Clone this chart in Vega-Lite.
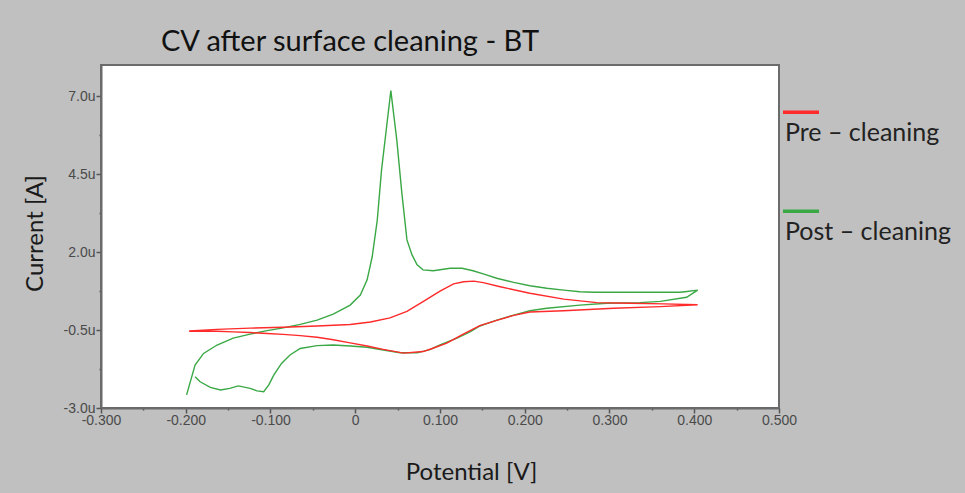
{
  "$schema": "https://vega.github.io/schema/vega-lite/v6.json",
  "width": 678,
  "height": 343,
  "autosize": {"type": "none"},
  "padding": {"left": 101, "top": 65, "right": 186, "bottom": 85},
  "background": "#c0c0c0",
  "config": {
    "view": {"stroke": "#6b6b6b", "strokeWidth": 2, "fill": "white"},
    "axis": {"grid": false, "domainColor": "#6b6b6b", "domainWidth": 2, "tickColor": "#555555", "tickWidth": 1.5,
      "labelFont": "Liberation Sans", "labelFontSize": 14, "labelColor": "#4a4a4a",
      "titleFont": "Lato", "titleFontWeight": "normal", "titleColor": "#1a1a1a"}
  },
  "title": {"text": "CV after surface cleaning - BT", "anchor": "start", "frame": "group", "dx": 60, "offset": -15,
    "font": "Lato", "fontSize": 29, "fontWeight": "normal", "color": "#111111", "baseline": "alphabetic"},
  "data": {"values": [
    {"series": "Post – cleaning", "k": 1, "v": -0.199, "i": -2.58},
    {"series": "Post – cleaning", "k": 2, "v": -0.189, "i": -1.62},
    {"series": "Post – cleaning", "k": 3, "v": -0.179, "i": -1.25},
    {"series": "Post – cleaning", "k": 4, "v": -0.163, "i": -0.98},
    {"series": "Post – cleaning", "k": 5, "v": -0.144, "i": -0.76},
    {"series": "Post – cleaning", "k": 6, "v": -0.124, "i": -0.63},
    {"series": "Post – cleaning", "k": 7, "v": -0.104, "i": -0.52},
    {"series": "Post – cleaning", "k": 8, "v": -0.085, "i": -0.43},
    {"series": "Post – cleaning", "k": 9, "v": -0.065, "i": -0.32},
    {"series": "Post – cleaning", "k": 10, "v": -0.045, "i": -0.18},
    {"series": "Post – cleaning", "k": 11, "v": -0.026, "i": 0.01},
    {"series": "Post – cleaning", "k": 12, "v": -0.006, "i": 0.30},
    {"series": "Post – cleaning", "k": 13, "v": 0.006, "i": 0.62},
    {"series": "Post – cleaning", "k": 14, "v": 0.014, "i": 1.11},
    {"series": "Post – cleaning", "k": 15, "v": 0.020, "i": 1.85},
    {"series": "Post – cleaning", "k": 16, "v": 0.026, "i": 3.03},
    {"series": "Post – cleaning", "k": 17, "v": 0.031, "i": 4.63},
    {"series": "Post – cleaning", "k": 18, "v": 0.037, "i": 6.02},
    {"series": "Post – cleaning", "k": 19, "v": 0.042, "i": 7.18},
    {"series": "Post – cleaning", "k": 20, "v": 0.049, "i": 5.60},
    {"series": "Post – cleaning", "k": 21, "v": 0.055, "i": 3.89},
    {"series": "Post – cleaning", "k": 22, "v": 0.061, "i": 2.39},
    {"series": "Post – cleaning", "k": 23, "v": 0.067, "i": 1.91},
    {"series": "Post – cleaning", "k": 24, "v": 0.073, "i": 1.59},
    {"series": "Post – cleaning", "k": 25, "v": 0.080, "i": 1.43},
    {"series": "Post – cleaning", "k": 26, "v": 0.092, "i": 1.40},
    {"series": "Post – cleaning", "k": 27, "v": 0.112, "i": 1.48},
    {"series": "Post – cleaning", "k": 28, "v": 0.126, "i": 1.48},
    {"series": "Post – cleaning", "k": 29, "v": 0.139, "i": 1.40},
    {"series": "Post – cleaning", "k": 30, "v": 0.151, "i": 1.30},
    {"series": "Post – cleaning", "k": 31, "v": 0.167, "i": 1.16},
    {"series": "Post – cleaning", "k": 32, "v": 0.187, "i": 1.03},
    {"series": "Post – cleaning", "k": 33, "v": 0.206, "i": 0.92},
    {"series": "Post – cleaning", "k": 34, "v": 0.226, "i": 0.84},
    {"series": "Post – cleaning", "k": 35, "v": 0.246, "i": 0.78},
    {"series": "Post – cleaning", "k": 36, "v": 0.265, "i": 0.73},
    {"series": "Post – cleaning", "k": 37, "v": 0.281, "i": 0.71},
    {"series": "Post – cleaning", "k": 38, "v": 0.305, "i": 0.71},
    {"series": "Post – cleaning", "k": 39, "v": 0.344, "i": 0.71},
    {"series": "Post – cleaning", "k": 40, "v": 0.383, "i": 0.71},
    {"series": "Post – cleaning", "k": 41, "v": 0.389, "i": 0.73},
    {"series": "Post – cleaning", "k": 42, "v": 0.404, "i": 0.78},
    {"series": "Post – cleaning", "k": 43, "v": 0.391, "i": 0.55},
    {"series": "Post – cleaning", "k": 44, "v": 0.360, "i": 0.42},
    {"series": "Post – cleaning", "k": 45, "v": 0.336, "i": 0.38},
    {"series": "Post – cleaning", "k": 46, "v": 0.297, "i": 0.36},
    {"series": "Post – cleaning", "k": 47, "v": 0.265, "i": 0.30},
    {"series": "Post – cleaning", "k": 48, "v": 0.226, "i": 0.20},
    {"series": "Post – cleaning", "k": 49, "v": 0.206, "i": 0.12},
    {"series": "Post – cleaning", "k": 50, "v": 0.187, "i": -0.02},
    {"series": "Post – cleaning", "k": 51, "v": 0.167, "i": -0.18},
    {"series": "Post – cleaning", "k": 52, "v": 0.147, "i": -0.37},
    {"series": "Post – cleaning", "k": 53, "v": 0.136, "i": -0.55},
    {"series": "Post – cleaning", "k": 54, "v": 0.120, "i": -0.76},
    {"series": "Post – cleaning", "k": 55, "v": 0.100, "i": -0.98},
    {"series": "Post – cleaning", "k": 56, "v": 0.088, "i": -1.13},
    {"series": "Post – cleaning", "k": 57, "v": 0.073, "i": -1.23},
    {"series": "Post – cleaning", "k": 58, "v": 0.053, "i": -1.23},
    {"series": "Post – cleaning", "k": 59, "v": 0.033, "i": -1.14},
    {"series": "Post – cleaning", "k": 60, "v": 0.014, "i": -1.05},
    {"series": "Post – cleaning", "k": 61, "v": -0.006, "i": -1.01},
    {"series": "Post – cleaning", "k": 62, "v": -0.026, "i": -0.98},
    {"series": "Post – cleaning", "k": 63, "v": -0.045, "i": -1.00},
    {"series": "Post – cleaning", "k": 64, "v": -0.065, "i": -1.09},
    {"series": "Post – cleaning", "k": 65, "v": -0.077, "i": -1.30},
    {"series": "Post – cleaning", "k": 66, "v": -0.087, "i": -1.57},
    {"series": "Post – cleaning", "k": 67, "v": -0.096, "i": -1.94},
    {"series": "Post – cleaning", "k": 68, "v": -0.102, "i": -2.26},
    {"series": "Post – cleaning", "k": 69, "v": -0.108, "i": -2.48},
    {"series": "Post – cleaning", "k": 70, "v": -0.116, "i": -2.45},
    {"series": "Post – cleaning", "k": 71, "v": -0.124, "i": -2.37},
    {"series": "Post – cleaning", "k": 72, "v": -0.138, "i": -2.29},
    {"series": "Post – cleaning", "k": 73, "v": -0.148, "i": -2.37},
    {"series": "Post – cleaning", "k": 74, "v": -0.159, "i": -2.42},
    {"series": "Post – cleaning", "k": 75, "v": -0.171, "i": -2.34},
    {"series": "Post – cleaning", "k": 76, "v": -0.183, "i": -2.16},
    {"series": "Post – cleaning", "k": 77, "v": -0.189, "i": -2.00},
    {"series": "Pre – cleaning", "k": 1, "v": -0.196, "i": -0.53},
    {"series": "Pre – cleaning", "k": 2, "v": -0.163, "i": -0.48},
    {"series": "Pre – cleaning", "k": 3, "v": -0.124, "i": -0.44},
    {"series": "Pre – cleaning", "k": 4, "v": -0.085, "i": -0.41},
    {"series": "Pre – cleaning", "k": 5, "v": -0.045, "i": -0.37},
    {"series": "Pre – cleaning", "k": 6, "v": -0.006, "i": -0.32},
    {"series": "Pre – cleaning", "k": 7, "v": 0.018, "i": -0.24},
    {"series": "Pre – cleaning", "k": 8, "v": 0.041, "i": -0.11},
    {"series": "Pre – cleaning", "k": 9, "v": 0.061, "i": 0.10},
    {"series": "Pre – cleaning", "k": 10, "v": 0.080, "i": 0.41},
    {"series": "Pre – cleaning", "k": 11, "v": 0.100, "i": 0.75},
    {"series": "Pre – cleaning", "k": 12, "v": 0.116, "i": 0.98},
    {"series": "Pre – cleaning", "k": 13, "v": 0.128, "i": 1.05},
    {"series": "Pre – cleaning", "k": 14, "v": 0.140, "i": 1.07},
    {"series": "Pre – cleaning", "k": 15, "v": 0.151, "i": 1.02},
    {"series": "Pre – cleaning", "k": 16, "v": 0.171, "i": 0.89},
    {"series": "Pre – cleaning", "k": 17, "v": 0.206, "i": 0.68},
    {"series": "Pre – cleaning", "k": 18, "v": 0.246, "i": 0.49},
    {"series": "Pre – cleaning", "k": 19, "v": 0.285, "i": 0.38},
    {"series": "Pre – cleaning", "k": 20, "v": 0.324, "i": 0.36},
    {"series": "Pre – cleaning", "k": 21, "v": 0.364, "i": 0.34},
    {"series": "Pre – cleaning", "k": 22, "v": 0.404, "i": 0.31},
    {"series": "Pre – cleaning", "k": 23, "v": 0.360, "i": 0.25},
    {"series": "Pre – cleaning", "k": 24, "v": 0.305, "i": 0.20},
    {"series": "Pre – cleaning", "k": 25, "v": 0.246, "i": 0.12},
    {"series": "Pre – cleaning", "k": 26, "v": 0.206, "i": 0.08},
    {"series": "Pre – cleaning", "k": 27, "v": 0.187, "i": -0.03},
    {"series": "Pre – cleaning", "k": 28, "v": 0.167, "i": -0.19},
    {"series": "Pre – cleaning", "k": 29, "v": 0.147, "i": -0.36},
    {"series": "Pre – cleaning", "k": 30, "v": 0.128, "i": -0.62},
    {"series": "Pre – cleaning", "k": 31, "v": 0.108, "i": -0.92},
    {"series": "Pre – cleaning", "k": 32, "v": 0.090, "i": -1.10},
    {"series": "Pre – cleaning", "k": 33, "v": 0.080, "i": -1.19},
    {"series": "Pre – cleaning", "k": 34, "v": 0.057, "i": -1.24},
    {"series": "Pre – cleaning", "k": 35, "v": 0.033, "i": -1.12},
    {"series": "Pre – cleaning", "k": 36, "v": 0.014, "i": -1.01},
    {"series": "Pre – cleaning", "k": 37, "v": -0.006, "i": -0.91},
    {"series": "Pre – cleaning", "k": 38, "v": -0.026, "i": -0.81},
    {"series": "Pre – cleaning", "k": 39, "v": -0.045, "i": -0.73},
    {"series": "Pre – cleaning", "k": 40, "v": -0.065, "i": -0.68},
    {"series": "Pre – cleaning", "k": 41, "v": -0.085, "i": -0.64},
    {"series": "Pre – cleaning", "k": 42, "v": -0.104, "i": -0.61},
    {"series": "Pre – cleaning", "k": 43, "v": -0.124, "i": -0.58},
    {"series": "Pre – cleaning", "k": 44, "v": -0.144, "i": -0.56},
    {"series": "Pre – cleaning", "k": 45, "v": -0.163, "i": -0.54},
    {"series": "Pre – cleaning", "k": 46, "v": -0.183, "i": -0.54},
    {"series": "Pre – cleaning", "k": 47, "v": -0.196, "i": -0.54}
  ]},
  "mark": {"type": "line", "strokeWidth": 1.4, "interpolate": "linear", "clip": true},
  "encoding": {
    "x": {"field": "v", "type": "quantitative",
      "scale": {"domain": [-0.3, 0.5], "nice": false, "zero": false},
      "axis": {"title": "Potential [V]", "titleFontSize": 24, "titleX": 370, "titleY": 71, "titleAlign": "center", "titleBaseline": "alphabetic", "titleAnchor": null,
        "values": [-0.3, -0.25, -0.2, -0.15, -0.1, -0.05, 0, 0.05, 0.1, 0.15, 0.2, 0.25, 0.3, 0.35, 0.4, 0.45, 0.5],
        "labelExpr": "abs(round(datum.value*20))%2==1 ? '' : (abs(datum.value) < 1e-9 ? '0' : (datum.value < 0 ? '-' : '') + format(abs(datum.value), '.3f'))",
        "tickSize": {"condition": {"test": "abs(round(datum.value*20))%2==1", "value": 2}, "value": 5},
        "labelPadding": 0, "labelFlush": false, "labelOverlap": false}},
    "y": {"field": "i", "type": "quantitative",
      "scale": {"domain": [-3, 8], "nice": false, "zero": false},
      "axis": {"title": "Current  [A]", "titleFontSize": 24, "titleX": -59, "titleY": 168, "titleAngle": -90, "titleAlign": "center", "titleBaseline": "alphabetic",
        "values": [-3, -1.75, -0.5, 0.75, 2, 3.25, 4.5, 5.75, 7],
        "labelExpr": "round((datum.value+3)/1.25)%2==1 ? '' : (datum.value < 0 ? '-' : '') + format(abs(datum.value), '.1f') + 'u'",
        "tickSize": {"condition": {"test": "round((datum.value+3)/1.25)%2==1", "value": 2}, "value": 5},
        "labelPadding": 1, "labelFlush": false, "labelOverlap": false}},
    "color": {"field": "series", "type": "nominal",
      "scale": {"domain": ["Pre – cleaning", "Post – cleaning"], "range": ["#ff2a2a", "#3aa845"]},
      "legend": {"orient": "none", "legendX": 680, "legendY": 56, "title": null, "symbolType": "M-1,-1.6H1", "symbolSize": 1296,
        "symbolStrokeWidth": 3.5, "symbolFillColor": "transparent", "labelFont": "Lato", "labelFontSize": 25, "labelColor": "#222222", "labelOffset": -36,
        "labelLimit": 0, "labelBaseline": "alphabetic", "rowPadding": 58, "padding": 0}},
    "order": {"field": "k", "type": "quantitative"}
  }
}
